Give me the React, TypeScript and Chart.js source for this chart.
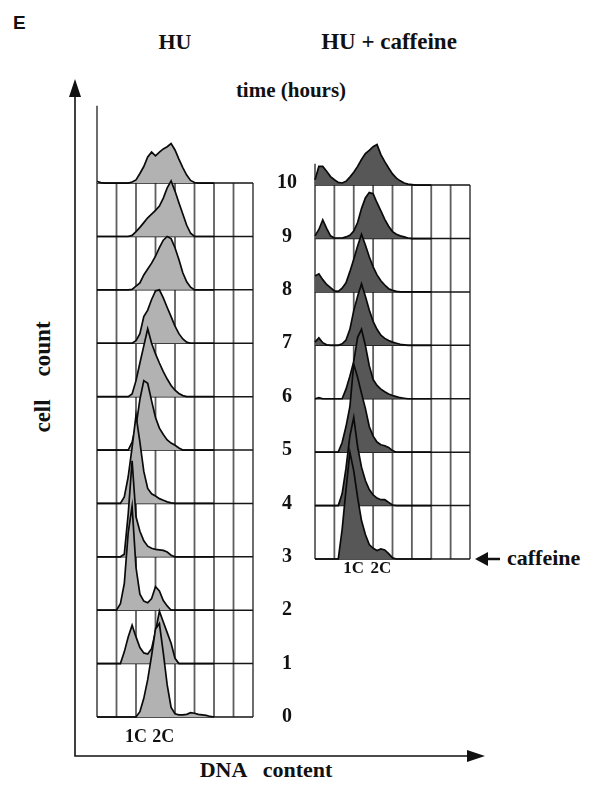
import React, { useEffect, useRef } from 'react';
import { Chart, registerables } from 'chart.js';

Chart.register(...registerables);

// ---------------- data ----------------
// DNA-content channels: one grid column = 10 channels, histograms sampled every 2 channels (0..60).
const CHANNEL_STEP = 2;
const CHANNEL_MAX = 80;
const GRID_STEP = 10;
// One time row = 100 cell-count units.
const ROW_SPAN = 100;
const LAST_HOUR = 10;

// HU alone, hours 0..10
const HU_HOURS = [0, 1, 2, 3, 4, 5, 6, 7, 8, 9, 10];
const HU_0 = [0, 0, 0, 0, 0, 0, 0, 0, 0, 0, 0, 10, 35, 70, 115, 165, 175, 120, 60, 18, 6, 4, 4, 5, 8, 7, 5, 4, 3, 1, 0];
const HU_1 = [0, 0, 0, 0, 0, 0, 0, 22, 50, 72, 50, 30, 20, 18, 28, 60, 98, 78, 58, 38, 10, 0, 0, 0, 0, 0, 0, 0, 0, 0, 0];
const HU_2 = [0, 0, 0, 0, 0, 0, 12, 50, 145, 195, 80, 30, 17, 14, 22, 44, 36, 18, 8, 0, 0, 0, 0, 0, 0, 0, 0, 0, 0, 0, 0];
const HU_3 = [0, 0, 0, 0, 0, 0, 0, 5, 80, 180, 75, 48, 30, 20, 16, 14, 13, 12, 9, 3, 0, 0, 0, 0, 0, 0, 0, 0, 0, 0, 0];
const HU_4 = [0, 0, 0, 0, 0, 0, 0, 12, 50, 105, 165, 115, 60, 28, 18, 14, 9, 6, 3, 1, 0, 0, 0, 0, 0, 0, 0, 0, 0, 0, 0];
const HU_5 = [0, 0, 0, 0, 0, 0, 0, 0, 0, 15, 45, 95, 130, 125, 92, 61, 41, 29, 19, 13, 9, 4, 0, 0, 0, 0, 0, 0, 0, 0, 0];
const HU_6 = [0, 0, 0, 0, 0, 0, 0, 0, 0, 5, 30, 63, 95, 127, 100, 80, 63, 47, 33, 21, 12, 6, 2, 0, 0, 0, 0, 0, 0, 0, 0];
const HU_7 = [0, 0, 0, 0, 0, 0, 0, 0, 0, 0, 5, 18, 50, 62, 82, 98, 100, 85, 67, 50, 32, 18, 8, 2, 0, 0, 0, 0, 0, 0, 0];
const HU_8 = [0, 0, 0, 0, 0, 0, 0, 0, 0, 1, 7, 13, 28, 39, 50, 63, 79, 93, 100, 96, 79, 57, 32, 15, 5, 0, 0, 0, 0, 0, 0];
const HU_9 = [0, 0, 0, 0, 0, 0, 0, 0, 0, 2, 9, 17, 26, 35, 42, 49, 57, 72, 91, 104, 85, 63, 42, 21, 6, 0, 0, 0, 0, 0, 0];
const HU_10 = [3, 1, 0, 0, 0, 0, 0, 0, 0, 2, 6, 18, 31, 49, 58, 51, 58, 64, 68, 74, 62, 45, 29, 15, 5, 1, 0, 0, 0, 0, 0];

// HU + caffeine (added at 3 h), hours 3..10
const CAF_HOURS = [3, 4, 5, 6, 7, 8, 9, 10];
const CAF_3 = [0, 0, 0, 0, 0, 0, 0, 55, 130, 200, 165, 115, 72, 46, 27, 20, 16, 19, 17, 10, 2, 0, 0, 0, 0, 0, 0, 0, 0, 0, 0];
const CAF_4 = [0, 0, 0, 0, 0, 0, 0, 22, 70, 130, 165, 110, 72, 47, 30, 20, 14, 11, 11, 6, 1, 0, 0, 0, 0, 0, 0, 0, 0, 0, 0];
const CAF_5 = [0, 0, 0, 0, 0, 0, 0, 18, 48, 85, 165, 140, 110, 82, 48, 30, 19, 14, 12, 9, 3, 0, 0, 0, 0, 0, 0, 0, 0, 0, 0];
const CAF_6 = [0, 2, 0, 0, 0, 0, 0, 0, 18, 42, 70, 115, 130, 100, 62, 36, 25, 18, 13, 9, 6, 4, 2, 1, 0, 0, 0, 0, 0, 0, 0];
const CAF_7 = [6, 14, 5, 1, 0, 0, 0, 3, 10, 30, 65, 92, 115, 92, 66, 45, 30, 19, 13, 9, 6, 4, 2, 1, 0, 0, 0, 0, 0, 0, 0];
const CAF_8 = [30, 34, 23, 14, 8, 2, 1, 7, 17, 38, 61, 86, 108, 88, 66, 47, 32, 21, 13, 6, 3, 1, 0, 0, 0, 0, 0, 0, 0, 0, 0];
const CAF_9 = [5, 17, 35, 19, 5, 1, 1, 1, 3, 6, 14, 30, 56, 76, 86, 84, 67, 52, 36, 23, 13, 8, 5, 3, 1, 0, 0, 0, 0, 0, 0];
const CAF_10 = [10, 35, 35, 26, 16, 10, 5, 4, 7, 15, 24, 35, 48, 59, 65, 72, 76, 57, 44, 32, 21, 13, 8, 4, 2, 1, 0, 0, 0, 0, 0];

const TIME_LABELS = ['0', '1', '2', '3', '4', '5', '6', '7', '8', '9', '10'];
const PLOIDY_CHANNELS = [20, 34];
const PLOIDY_LABELS = ['1C', '2C'];

const HU_COUNTS = [HU_0, HU_1, HU_2, HU_3, HU_4, HU_5, HU_6, HU_7, HU_8, HU_9, HU_10];
const CAF_COUNTS = [CAF_3, CAF_4, CAF_5, CAF_6, CAF_7, CAF_8, CAF_9, CAF_10];

// ---------------- styling / layout ----------------
const SERIF = '"Liberation Serif", "Times New Roman", Times, serif';
const Y_MAX = 1150;

function histogramDatasets(hours: number[], counts: number[][], fill: string, firstHour: number, frameTop: number) {
  const sets: any[] = hours.map((h, k) => ({
    type: 'line',
    data: counts[k].map((c, i) => ({ x: i * CHANNEL_STEP, y: h * ROW_SPAN + c })),
    fill: { value: h * ROW_SPAN },
    backgroundColor: fill,
    borderColor: '#0a0a0a',
    borderWidth: 1.7,
    pointRadius: 0,
    tension: 0,
    clip: false,
    order: h + 1,
  }));
  const vertical: any[] = [];
  for (let c = 0; c <= CHANNEL_MAX; c += GRID_STEP) {
    vertical.push({ x: c, y: firstHour * ROW_SPAN });
    vertical.push({ x: c, y: c === 0 ? frameTop : LAST_HOUR * ROW_SPAN });
    vertical.push({ x: c, y: null });
  }
  const horizontal: any[] = [];
  for (let h = firstHour; h <= LAST_HOUR; h++) {
    horizontal.push({ x: 0, y: h * ROW_SPAN });
    horizontal.push({ x: CHANNEL_MAX, y: h * ROW_SPAN });
    horizontal.push({ x: CHANNEL_MAX, y: null });
  }
  sets.push({
    type: 'line', data: vertical, borderColor: '#5e5e5e', borderWidth: 1.8,
    pointRadius: 0, fill: false, spanGaps: false, clip: false, order: 100,
  });
  sets.push({
    type: 'line', data: horizontal, borderColor: '#161616', borderWidth: 1.5,
    pointRadius: 0, fill: false, spanGaps: false, clip: false, order: 99,
  });
  return sets;
}

function xAxis(padding: number, height: number, size: number) {
  return {
    type: 'linear', min: 0, max: CHANNEL_MAX, bounds: 'data',
    grid: { display: false, drawTicks: false }, border: { display: false },
    afterBuildTicks: (s: any) => { s.ticks = PLOIDY_CHANNELS.map((v) => ({ value: v })); },
    afterFit: (s: any) => { s.height = height; s.paddingLeft = 0; s.paddingRight = 0; },
    ticks: {
      autoSkip: false, maxRotation: 0, minRotation: 0, padding, color: '#111',
      font: { family: SERIF, size, weight: 'bold', lineHeight: 1 },
      callback: (_v: any, i: number) => PLOIDY_LABELS[i],
    },
  };
}

function HUPanel() {
  const ref = useRef<HTMLCanvasElement>(null);
  useEffect(() => {
    const chart = new Chart(ref.current as HTMLCanvasElement, {
      type: 'line',
      data: { datasets: histogramDatasets(HU_HOURS, HU_COUNTS, '#b2b2b2', 0, 1145) },
      options: {
        responsive: false, animation: false, devicePixelRatio: 1, events: [],
        layout: { padding: { left: 10, top: 10, right: 0, bottom: 0 } },
        plugins: { legend: { display: false }, tooltip: { enabled: false } },
        scales: {
          x: xAxis(11.5, 40, 18),
          y: {
            type: 'linear', min: 0, max: Y_MAX, bounds: 'data', position: 'right',
            grid: { display: false, drawTicks: false }, border: { display: false },
            afterBuildTicks: (s: any) => { s.ticks = HU_HOURS.map((h) => ({ value: h * ROW_SPAN })); },
            afterFit: (s: any) => { s.width = 50; s.paddingTop = 0; s.paddingBottom = 0; },
            ticks: {
              autoSkip: false, crossAlign: 'center', padding: 24, color: '#111',
              font: { family: SERIF, size: 20, weight: 'bold' },
              callback: (_v: any, i: number) => TIME_LABELS[i],
            },
          },
        },
      } as any,
    });
    return () => chart.destroy();
  }, []);
  return <canvas ref={ref} width={216} height={664} style={{ position: 'absolute', left: 87, top: 93, width: 216, height: 664 }} />;
}

function CaffeinePanel() {
  const ref = useRef<HTMLCanvasElement>(null);
  useEffect(() => {
    const chart = new Chart(ref.current as HTMLCanvasElement, {
      type: 'line',
      data: { datasets: histogramDatasets(CAF_HOURS, CAF_COUNTS, '#575757', CAF_HOURS[0], 1040) },
      options: {
        responsive: false, animation: false, devicePixelRatio: 1, events: [],
        layout: { padding: { left: 10, top: 10, right: 10, bottom: 0 } },
        plugins: { legend: { display: false }, tooltip: { enabled: false } },
        scales: {
          x: xAxis(1, 25, 17),
          y: { type: 'linear', min: CAF_HOURS[0] * ROW_SPAN, max: Y_MAX, bounds: 'data', display: false },
        },
      } as any,
    });
    return () => chart.destroy();
  }, []);
  return <canvas ref={ref} width={175} height={489} style={{ position: 'absolute', left: 305, top: 95, width: 175, height: 489 }} />;
}

function Decorations() {
  const t = { fontFamily: SERIF, fontWeight: 'bold', fill: '#111' } as any;
  return (
    <svg width={607} height={785} style={{ position: 'absolute', left: 0, top: 0 }}>
      <text x={13} y={29} style={{ fontFamily: '"Liberation Sans", Arial, sans-serif', fontWeight: 'bold', fontSize: 19, fill: '#111' }}>E</text>
      <text x={175} y={48.5} textAnchor="middle" style={{ ...t, fontSize: 22 }}>HU</text>
      <text x={389} y={48.5} textAnchor="middle" style={{ ...t, fontSize: 23 }}>HU + caffeine</text>
      <text x={291} y={97} textAnchor="middle" style={{ ...t, fontSize: 21 }}>time (hours)</text>
      <text transform="translate(50,377) rotate(-90)" textAnchor="middle" style={{ ...t, fontSize: 23, whiteSpace: 'pre' }}>{'cell    count'}</text>
      <text x={266} y={777} textAnchor="middle" style={{ ...t, fontSize: 22, whiteSpace: 'pre' }}>{'DNA   content'}</text>
      <text x={507} y={565} style={{ ...t, fontSize: 22 }}>caffeine</text>
      {/* outer axes */}
      <polyline points="75,95 75,756 468,756" fill="none" stroke="#111" strokeWidth={1.6} />
      <polygon points="75,79 69,97 81,97" fill="#111" />
      <polygon points="485,756 467,750 467,762" fill="#111" />
      {/* caffeine arrow */}
      <polygon points="475,559 488,552 488,566" fill="#111" />
      <line x1={486} y1={559} x2={500} y2={559} stroke="#111" strokeWidth={2.5} />
    </svg>
  );
}

export default function App() {
  return (
    <div style={{ position: 'absolute', left: 0, top: 0, width: 607, height: 785, background: '#fff', overflow: 'hidden' }}>
      <Decorations />
      <HUPanel />
      <CaffeinePanel />
    </div>
  );
}
